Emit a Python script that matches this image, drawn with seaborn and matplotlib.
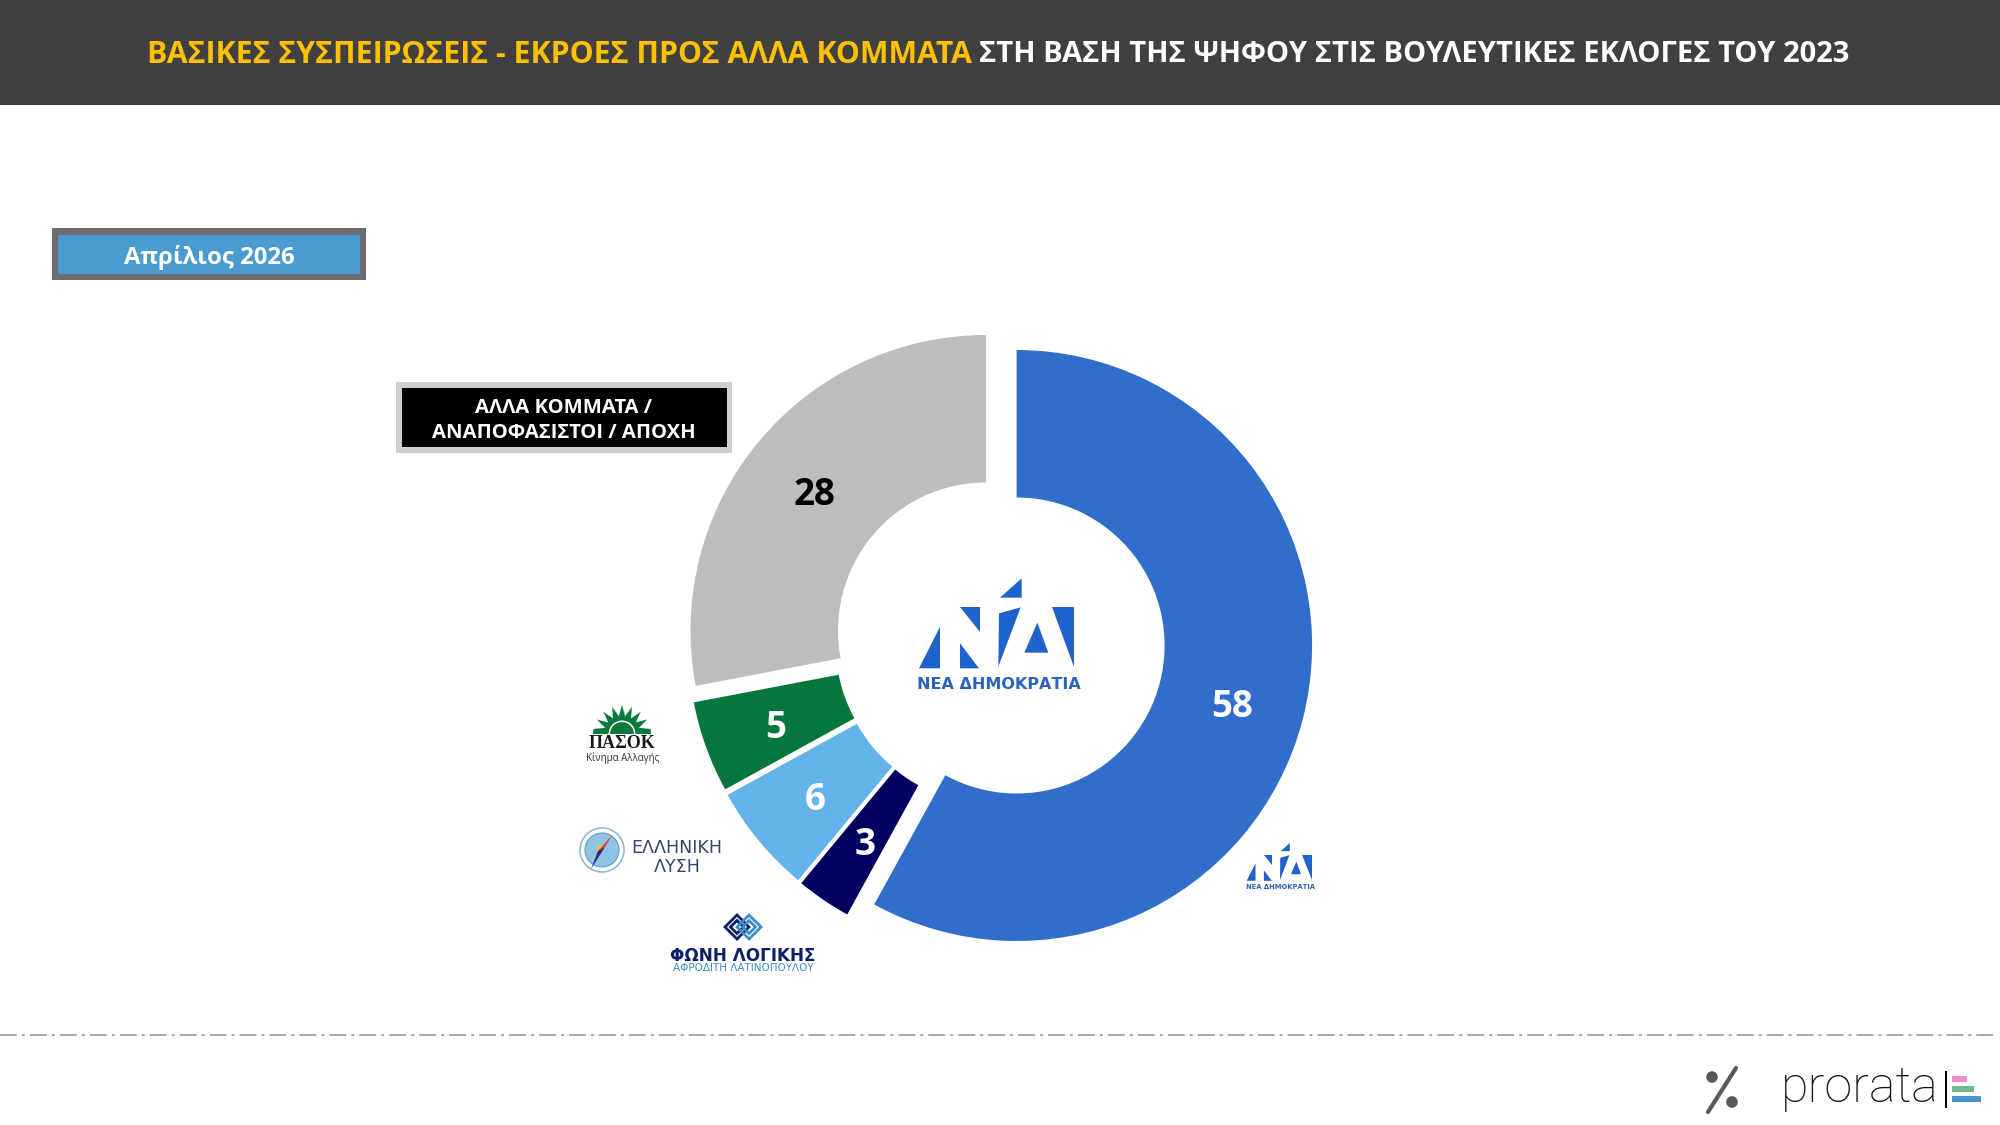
import numpy as np
import seaborn as sns
import matplotlib.pyplot as plt
from matplotlib.patches import Rectangle, Polygon, Circle, Wedge

# data
parties = ['ΝΕΑ ΔΗΜΟΚΡΑΤΙΑ', 'ΦΩΝΗ ΛΟΓΙΚΗΣ', 'ΕΛΛΗΝΙΚΗ ΛΥΣΗ', 'ΠΑΣΟΚ', 'ΑΛΛΑ ΚΟΜΜΑΤΑ / ΑΝΑΠΟΦΑΣΙΣΤΟΙ / ΑΠΟΧΗ']
values = [58, 3, 6, 5, 28]
value_labels = ['58', '3', '6', '5', '28']
slice_colors = ['#316dcb', '#00005e', '#63b3ea', '#05773c', '#bdbdbd']
label_colors = ['white', 'white', 'white', 'white', 'black']
# each slice is pulled out by its own amount (px)
slice_shift = [(0, 0), (-27, -10), (-30, -7), (-32.5, -1.5), (-30.6, 15)]

title_left = 'ΒΑΣΙΚΕΣ ΣΥΣΠΕΙΡΩΣΕΙΣ - ΕΚΡΟΕΣ ΠΡΟΣ ΑΛΛΑ ΚΟΜΜΑΤΑ'
title_right = 'ΣΤΗ ΒΑΣΗ ΤΗΣ ΨΗΦΟΥ ΣΤΙΣ ΒΟΥΛΕΥΤΙΚΕΣ ΕΚΛΟΓΕΣ ΤΟΥ 2023'
badge_text = 'Απρίλιος 2026'
other_lines = ['ΑΛΛΑ ΚΟΜΜΑΤΑ /', 'ΑΝΑΠΟΦΑΣΙΣΤΟΙ / ΑΠΟΧΗ']

sns.set_theme(style='white')
plt.rcParams['font.family'] = ['Open Sans', 'DejaVu Sans']
palette = sns.color_palette(slice_colors)

H = 1125
fig = plt.figure(figsize=(20, 11.25), dpi=100, facecolor='white')
ax = fig.add_axes([0, 0, 1, 1])

# donut
cx, cy, r_out, r_in = 1016.6, H - 645.5, 295.5, 148
wedges, _ = ax.pie(values, colors=palette, startangle=90, counterclock=False,
                   radius=r_out, center=(cx, cy), wedgeprops=dict(width=r_out - r_in, linewidth=0))
ax.set_xlim(0, 2000)
ax.set_ylim(0, H)
ax.set_aspect('equal')
ax.axis('off')

for w, shift, lab, col in zip(wedges, slice_shift, value_labels, label_colors):
    c = (cx + shift[0], cy + shift[1])
    w.set_center(c)
    mid = np.radians((w.theta1 + w.theta2) / 2)
    ax.text(c[0] + 222 * np.cos(mid), c[1] + 222 * np.sin(mid) - 1.5, lab, color=col,
            fontsize=26.5, fontweight='bold', ha='center', va='center_baseline')


def box(x0, y0, x1, y1, color, zorder=2):
    ax.add_patch(Rectangle((x0, H - y1), x1 - x0, y1 - y0, fc=color, ec='none', zorder=zorder))


def txt(x, y, s, size, color='black', weight='normal', ha='center', family=None):
    return ax.text(x, H - y, s, fontsize=size, color=color, fontweight=weight, ha=ha,
                   va='center_baseline', family=family, zorder=5)


# header
box(0, 0, 2000, 105, '#404040')
txt(147, 51.5, title_left, 21.75, '#ffc000', 'bold', 'left')
txt(979, 51.5, title_right, 21, 'white', 'bold', 'left')

# month badge
box(52, 228, 366, 280, '#6f6b70')
box(58, 235, 360, 274, '#4a9bd0', 3)
txt(209, 254, badge_text, 17.2, 'white', 'bold')

# box for the grey slice
box(396, 382, 732, 453, '#cfcfcf')
box(402, 388, 727, 447, 'black', 3)
txt(564, 405.5, other_lines[0], 14.6, 'white', 'bold')
txt(564, 430.5, other_lines[1], 14.6, 'white', 'bold')


# ND logo, pieces in zoomed px
nd_parts = [[(42, 295), (105, 170), (105, 295)],
            [(165, 110), (225, 110), (225, 185)],
            [(165, 220), (222, 295), (165, 295)],
            [(285, 83), (350, 25), (350, 83)],
            [(282, 130), (347, 112), (280, 290)],
            [(358, 248), (397, 158), (430, 248)],
            [(440, 110), (508, 110), (508, 290)]]


def nd_logo(ox, oy, s, size):
    for part in nd_parts:
        pts = [(ox + px / 3 * s, H - (oy + py / 3 * s)) for px, py in part]
        ax.add_patch(Polygon(pts, fc='#1f62cc', ec='none', zorder=4))
    txt(ox + 94 * s, oy + 113 * s, parties[0], size, '#2a62bd', 'bold', family='DejaVu Sans')


nd_logo(905, 570, 1, 11.5)
nd_logo(1240.8, 839.5, 0.42, 4.9)

# PASOK logo
n = 9
ang = np.linspace(180, 0, 2 * n + 1)
rad = np.where(np.arange(2 * n + 1) % 2 == 0, 18, 29)
rad[0] = rad[-1] = 29
sun = [(622 + r * np.cos(np.radians(a)), H - 734 + r * np.sin(np.radians(a))) for a, r in zip(ang, rad)]
ax.add_patch(Polygon(sun, fc='#0a7a3c', ec='none', zorder=4))
ax.add_patch(Wedge((622, H - 734), 13.5, 0, 180, width=1.6, fc='white', ec='none', zorder=5))
txt(622, 741.5, 'ΠΑΣΟΚ', 13, '#1a1a1a', 'bold', family='Liberation Serif')
txt(622.5, 756.5, 'Κίνημα Αλλαγής', 7, '#333333')

# Elliniki Lysi logo
ax.add_patch(Circle((602, H - 850), 22, fc='white', ec='#8fb9d8', lw=1.2, zorder=4))
ax.add_patch(Circle((602, H - 850), 17, fc='#8fc3e3', ec='#5f9ccc', lw=0.8, zorder=4))
ax.add_patch(Polygon([(613, H - 834), (598, H - 851), (605, H - 847)], fc='#d9423a', ec='none', zorder=5))
ax.add_patch(Polygon([(591, H - 869), (598, H - 851), (605, H - 847)], fc='#1c2f70', ec='none', zorder=5))
ax.add_patch(Circle((600, H - 849), 4, fc='#e6c35a', ec='none', zorder=4.5))
txt(676.5, 846, 'ΕΛΛΗΝΙΚΗ', 12.6, '#33466b', family='DejaVu Sans')
txt(677, 865, 'ΛΥΣΗ', 12.6, '#33466b', family='DejaVu Sans')

# Foni Logikis logo
for dx, col in [(-6, '#0c1f6b'), (6, '#3a8fc7')]:
    for half in (12, 6.5):
        x0 = 743 + dx
        ax.add_patch(Polygon([(x0 - half, H - 927), (x0, H - 927 + half), (x0 + half, H - 927), (x0, H - 927 - half)],
                             fc='none', ec=col, lw=2, zorder=4))
txt(743, 954, parties[1], 12.2, '#0c1f6b', 'bold', family='DejaVu Sans')
txt(743, 967, 'ΑΦΡΟΔΙΤΗ ΛΑΤΙΝΟΠΟΥΛΟΥ', 7.5, '#3a8fc7', family='DejaVu Sans')

# footer
ax.plot([0, 1993], [H - 1034.5, H - 1034.5], color='#a6a6a6', lw=1.4, linestyle=(0, (8.7, 2.6, 1.5, 2.6)))
ax.plot([1708, 1736], [H - 1112, H - 1068], color='#58595b', lw=3, solid_capstyle='round')
ax.add_patch(Circle((1712, H - 1077), 5.8, fc='#58595b', ec='none'))
ax.add_patch(Circle((1732, H - 1102), 5.8, fc='#58595b', ec='none'))
ax.text(1781, H - 1102, 'prorata', fontsize=36.2, fontweight=100, family='Roboto', color='#111111',
        ha='left', va='baseline')
box(1945, 1071, 1947, 1108, 'black')
box(1952, 1075.7, 1967, 1081.7, '#f28ad6')
box(1952, 1085.7, 1974, 1091.7, '#73b88a')
box(1952, 1096, 1981, 1102.3, '#4a96cf')

fig.savefig('out.png', dpi=100)
